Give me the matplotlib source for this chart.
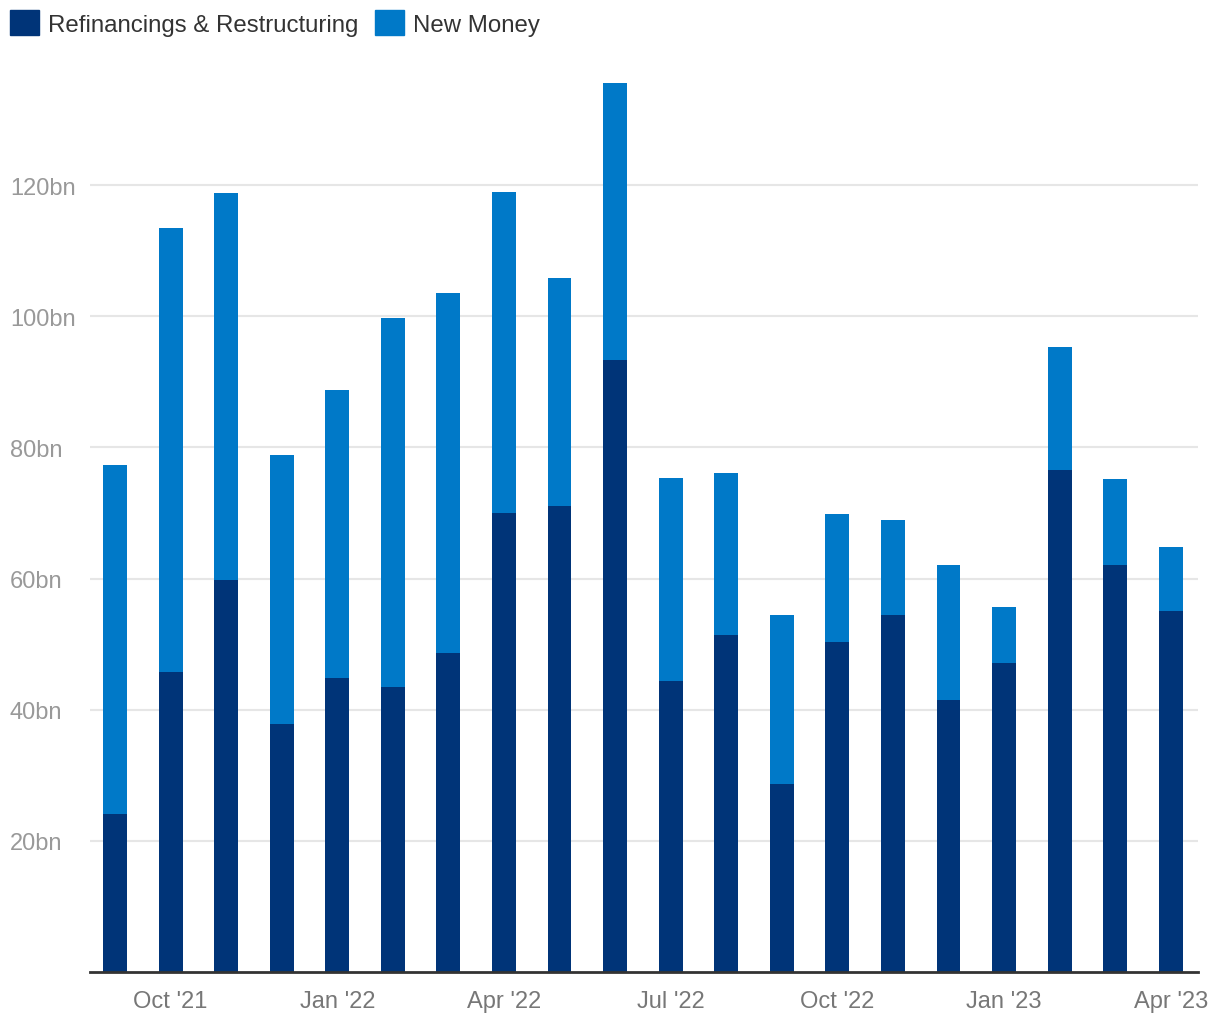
import matplotlib
matplotlib.use("Agg")
import matplotlib.pyplot as plt
from matplotlib.patches import Patch

months = ["Sep '21", "Oct '21", "Nov '21", "Dec '21", "Jan '22", "Feb '22", "Mar '22",
          "Apr '22", "May '22", "Jun '22", "Jul '22", "Aug '22", "Sep '22", "Oct '22",
          "Nov '22", "Dec '22", "Jan '23", "Feb '23", "Mar '23", "Apr '23"]
refi = [24.1, 45.7, 59.8, 37.8, 44.8, 43.4, 48.6, 70.0, 71.0, 93.3,
        44.4, 51.4, 28.7, 50.3, 54.4, 41.5, 47.1, 76.5, 62.0, 55.0]
total = [77.3, 113.4, 118.8, 78.8, 88.7, 99.8, 103.5, 118.9, 105.9, 135.5,
         75.3, 76.1, 54.4, 69.8, 68.9, 62.0, 55.6, 95.3, 75.2, 64.8]
new_money = [t - r for t, r in zip(total, refi)]

DARK = "#003478"
BLUE = "#0079c8"

plt.rcParams["font.family"] = ["Liberation Sans", "DejaVu Sans"]

fig = plt.figure(figsize=(12.2, 10.2), dpi=100)
W, H = 1220, 1020
ax = fig.add_axes([90 / W, 47 / H, (1198 - 90) / W, (973 - 68) / H])

x = list(range(len(months)))
ax.bar(x, refi, width=0.43, color=DARK, zorder=3)
ax.bar(x, new_money, bottom=refi, width=0.43, color=BLUE, zorder=3)

ax.set_xlim(-0.45, len(months) - 1 + 0.49)
ax.set_ylim(0, 138)

yt = [20, 40, 60, 80, 100, 120]
ax.set_yticks(yt)
ax.set_yticklabels([f"{v}bn" for v in yt])
ax.yaxis.grid(True, color="#e6e6e6", lw=1.5, zorder=0)
ax.tick_params(axis="y", length=0, pad=57.6, labelsize=17, labelcolor="#999999")
for lab in ax.get_yticklabels():
    lab.set_horizontalalignment("left")

xi = x[1::3]
ax.set_xticks(xi)
ax.set_xticklabels([months[i] for i in xi])
ax.tick_params(axis="x", length=0, pad=13, labelsize=17, labelcolor="#777777")

for s in ["top", "right", "left"]:
    ax.spines[s].set_visible(False)
ax.spines["bottom"].set_color("#333333")
ax.spines["bottom"].set_linewidth(2)
ax.spines["bottom"].set_zorder(4)

handles = [Patch(color=DARK, label="Refinancings & Restructuring"),
           Patch(color=BLUE, label="New Money")]
fig.legend(handles=handles, loc="center left", bbox_to_anchor=(10 / W, 1 - 24 / H),
           ncol=2, frameon=False, fontsize=17.3, labelcolor="#333333",
           handlelength=1.2, handleheight=1.2, handletextpad=0.38,
           columnspacing=0.68, borderpad=0, borderaxespad=0)

fig.savefig("out.png", dpi=100)
